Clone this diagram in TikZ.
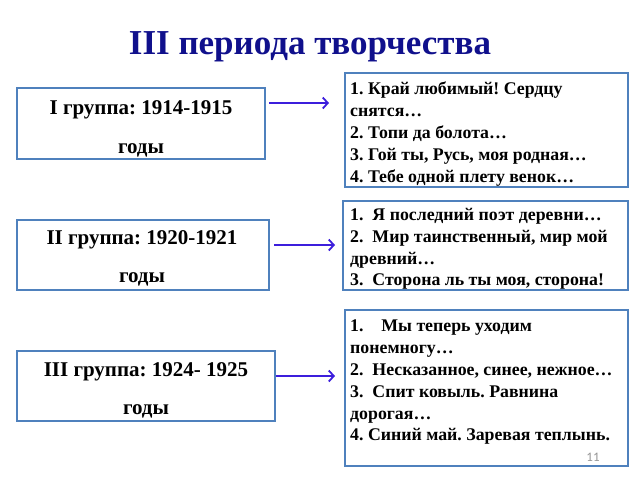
\documentclass[tikz,border=0pt]{standalone}
\usepackage{fontspec}
\setmainfont{Liberation Serif}
\newfontfamily\pagefont{Carlito}
\usetikzlibrary{arrows.meta}
\definecolor{boxline}{RGB}{79,129,189}
\definecolor{titleblue}{RGB}{16,16,140}
\definecolor{arrowblue}{RGB}{60,30,220}
\definecolor{pagegray}{RGB}{150,150,150}
\tikzset{
  framebox/.style={draw=boxline, line width=1.5pt, fill=white},
  lefttext/.style={font=\bfseries\fontsize{21}{24}\selectfont, inner sep=0pt, anchor=center},
  righttext/.style={font=\bfseries\fontsize{17.8}{21.8}\selectfont, inner sep=0pt, anchor=north west, align=left},
  linkarrow/.style={draw=arrowblue, line width=2.4pt, -{Straight Barb[length=5pt,width=11pt,line width=1.8pt]}},
}
\begin{document}
\frenchspacing
\begin{tikzpicture}[x=1pt,y=-1pt]
\useasboundingbox (0,0) rectangle (640,480);
% title
\node[font=\bfseries\fontsize{35}{40}\selectfont, text=titleblue] (title) at (310,47) {III периода творчества};
% left boxes
\draw[framebox] (17,88) rectangle (265,159);
\draw[framebox] (17,220) rectangle (269,290);
\draw[framebox] (17,351) rectangle (275,421);
\node[lefttext] (l1a) at (141,110) {I группа: 1914-1915};
\node[lefttext] (l1b) at (141,150) {годы};
\node[lefttext] (l2a) at (142,240) {II группа: 1920-1921};
\node[lefttext] (l2b) at (142,279) {годы};
\node[lefttext] (l3a) at (146,372) {III группа: 1924- 1925};
\node[lefttext] (l3b) at (146,411) {годы};
% right boxes
\draw[framebox] (345,73) rectangle (628,187);
\draw[framebox] (343,201) rectangle (628,290);
\draw[framebox] (345,310) rectangle (628,466);
\node[righttext] (r1) at (350,82) {1. Край любимый! Сердцу\\снятся…\\2. Топи да болота…\\3. Гой ты, Русь, моя родная…\\4. Тебе одной плету венок…};
\node[righttext] (r2) at (350,208) {1.\ \ Я последний поэт деревни…\\2.\ \ Мир таинственный, мир мой\\древний…\\3.\ \ Сторона ль ты моя, сторона!};
\node[righttext] (r3) at (350,320) {1.\ \ \ \ Мы теперь уходим\\понемногу…\\2.\ \ Несказанное, синее, нежное…\\3.\ \ Спит ковыль. Равнина\\дорогая…\\4. Синий май. Заревая теплынь.};
\node[font=\pagefont\fontsize{13}{15}\selectfont, text=pagegray] (pg) at (593,457) {11};
% arrows
\coordinate (a1s) at (269,103); \coordinate (a1e) at (329,103);
\coordinate (a2s) at (274,245); \coordinate (a2e) at (335,245);
\coordinate (a3s) at (276,376); \coordinate (a3e) at (335,376);
\draw[linkarrow] (a1s) -- (a1e);
\draw[linkarrow] (a2s) -- (a2e);
\draw[linkarrow] (a3s) -- (a3e);
\end{tikzpicture}
\end{document}
